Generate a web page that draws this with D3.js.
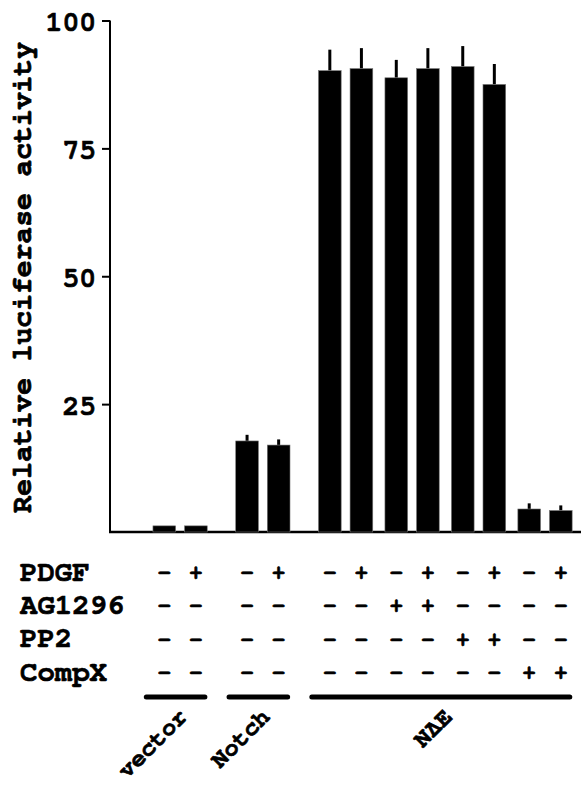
<!DOCTYPE html>
<html>
<head>
<meta charset="utf-8">
<script src="https://cdn.jsdelivr.net/npm/d3@7"></script>
<style>
  html, body { margin: 0; padding: 0; background: #fff; }
  svg { display: block; }
  text { font-family: "FreeMono", "Courier New", monospace; font-weight: bold; fill: #000; stroke: #000; stroke-width: 0.7px; }
</style>
</head>
<body>
<svg id="chart" width="581" height="786"></svg>
<script>
// ---- data ----
const groups = ["vector", "Notch", "N\u0394E"];
const barGroup = [0, 0, 1, 1, 2, 2, 2, 2, 2, 2, 2, 2];
const values = [1.2, 1.2, 17.8, 17.0, 90.2, 90.6, 88.8, 90.6, 91.0, 87.5, 4.5, 4.2];
const errors = [0, 0, 1.2, 1.1, 4.1, 4.0, 3.5, 4.0, 4.0, 4.0, 1.1, 1.0];
const treatments = ["PDGF", "AG1296", "PP2", "CompX"];
const pdgf   = ["-", "+", "-", "+", "-", "+", "-", "+", "-", "+", "-", "+"];
const ag1296 = ["-", "-", "-", "-", "-", "-", "+", "+", "-", "-", "-", "-"];
const pp2    = ["-", "-", "-", "-", "-", "-", "-", "-", "+", "+", "-", "-"];
const compx  = ["-", "-", "-", "-", "-", "-", "-", "-", "-", "-", "+", "+"];
const yTicks = [25, 50, 75, 100];
const yLabel = "Relative luciferase activity";

// ---- layout ----
const svg = d3.select("#chart");
const y = d3.scaleLinear().domain([0, 100]).range([532, 20.5]);
const pairGap = 0.104, groupGap = 0.62;
const slots = [];
let s = 0;
barGroup.forEach((g, i) => {
  if (i > 0) {
    s += 1;
    if (g !== barGroup[i - 1]) s += groupGap;
    else if (i % 2 === 0) s += pairGap;
  }
  slots.push(s);
});
const x = d3.scaleLinear().domain([0, slots[slots.length - 1]]).range([164.3, 560.8]);
const barW = 22.7;
const idx = d3.range(values.length);

// axes
const yAxis = d3.axisLeft(y).tickValues(yTicks).tickSize(8).tickPadding(6).tickFormat(d3.format("d"));
const gy = svg.append("g").attr("transform", "translate(110,0)").call(yAxis);
gy.attr("font-family", null).attr("font-size", null);
gy.select(".domain").attr("stroke", "#000").attr("stroke-width", 2).attr("d", `M0,${y(100)}V${y(0)}`);
gy.selectAll(".tick line").attr("stroke", "#000").attr("stroke-width", 2);
gy.selectAll(".tick text").attr("font-size", 28).attr("dy", "0.36em").attr("fill", "#000");

// baseline
svg.append("line").attr("x1", 109).attr("x2", 581).attr("y1", y(0)).attr("y2", y(0))
  .attr("stroke", "#000").attr("stroke-width", 2.5);

svg.append("text").attr("transform", `translate(31,${(y(0) + y(100)) / 2 + 1}) rotate(-90)`)
  .attr("text-anchor", "middle").attr("font-size", 28).text(yLabel);

// error bars (upward only)
svg.append("g").selectAll("line").data(idx.filter(i => errors[i] > 0)).join("line")
  .attr("x1", i => x(slots[i])).attr("x2", i => x(slots[i]))
  .attr("y1", i => y(values[i])).attr("y2", i => y(values[i] + errors[i]))
  .attr("stroke", "#000").attr("stroke-width", 3);

// bars
svg.append("g").selectAll("rect").data(idx).join("rect")
  .attr("x", i => x(slots[i]) - barW / 2).attr("width", barW)
  .attr("y", i => y(values[i])).attr("height", i => y(0) - y(values[i]))
  .attr("fill", "#000").attr("stroke", "#777").attr("stroke-width", 0.6);

// treatment table
const rows = [pdgf, ag1296, pp2, compx];
const rowY = [571, 604.3, 637.7, 671];
treatments.forEach((t, r) => {
  svg.append("text").attr("x", 20).attr("y", rowY[r]).attr("dy", "0.33em")
    .attr("font-size", 29).text(t);
  svg.append("g").selectAll("text").data(idx).join("text")
    .attr("x", i => x(slots[i])).attr("y", rowY[r]).attr("dy", "0.36em")
    .attr("text-anchor", "middle").attr("font-size", 22)
    .text(i => rows[r][i]);
});

// group lines and labels
groups.forEach((g, gi) => {
  const members = idx.filter(i => barGroup[i] === gi);
  const first = x(slots[members[0]]), last = x(slots[members[members.length - 1]]);
  const x0 = first - 18, x1 = last + 9;
  svg.append("line").attr("x1", x0).attr("x2", x1).attr("y1", 697).attr("y2", 697)
    .attr("stroke", "#000").attr("stroke-width", 5).attr("stroke-linecap", "round");
  const cx = (first + last) / 2;
  svg.append("text").attr("transform", `translate(${cx + 8},${718}) rotate(-45)`)
    .attr("text-anchor", "end").attr("font-size", 24).text(g);
});
</script>
</body>
</html>
